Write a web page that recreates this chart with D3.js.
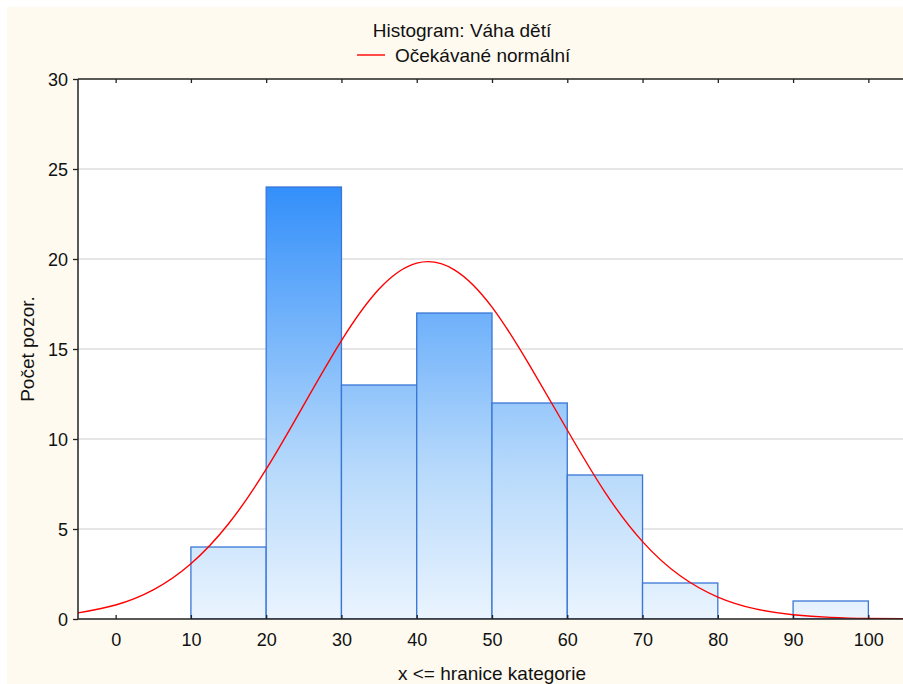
<!DOCTYPE html>
<html>
<head>
<meta charset="utf-8">
<script src="https://cdn.jsdelivr.net/npm/d3@7"></script>
<style>
  body { margin: 0; background: #fff; }
  svg { display: block; font-family: "Liberation Sans", Arial, sans-serif; }
</style>
</head>
<body>
<svg id="chart"></svg>
<script>
// histogram bins (lower edge, upper edge, count)
const binStart = [10, 20, 30, 40, 50, 60, 70, 80, 90];
const binEnd   = [20, 30, 40, 50, 60, 70, 80, 90, 100];
const counts   = [4, 24, 13, 17, 12, 8, 2, 0, 1];

// expected normal curve
const curveX = [-5, 0, 5, 10, 15, 20, 25, 30, 35, 40, 45, 50, 55, 60, 65, 70, 75, 80, 85, 90, 95, 100, 105];
const curveY = [0.34, 0.78, 1.62, 3.07, 5.29, 8.32, 11.9, 15.47, 18.33, 19.77, 19.4, 17.33, 14.09, 10.5, 7.05, 4.3, 2.4, 1.22, 0.56, 0.24, 0.09, 0.03, 0.01];

const xTicks = [0, 10, 20, 30, 40, 50, 60, 70, 80, 90, 100];
const yTicks = [0, 5, 10, 15, 20, 25, 30];

const title = "Histogram: Váha dětí";
const legendLabel = "Očekávané normální";
const xLabel = "x <= hranice kategorie";
const yLabel = "Počet pozor.";

const W = 903, H = 684;
const margin = { top: 79, right: -3, bottom: 65, left: 78 };

const svg = d3.select("#chart").attr("width", W).attr("height", H);

// cream background
svg.append("rect").attr("x", 7).attr("y", 7).attr("width", W - 7).attr("height", H - 7)
  .attr("fill", "#fefaf0");

const x = d3.scaleLinear().domain([-5, 105]).range([margin.left, W - margin.right]);
const y = d3.scaleLinear().domain([0, 30]).range([H - margin.bottom, margin.top]);

const defs = svg.append("defs");
defs.append("clipPath").attr("id", "plotClip").append("rect")
  .attr("x", x(-5)).attr("y", y(30)).attr("width", x(105) - x(-5)).attr("height", y(0) - y(30));

const grad = defs.append("linearGradient").attr("id", "barGrad")
  .attr("gradientUnits", "userSpaceOnUse")
  .attr("x1", 0).attr("x2", 0).attr("y1", y(0)).attr("y2", y(24));
grad.append("stop").attr("offset", "0%").attr("stop-color", "#eaf4fe");
grad.append("stop").attr("offset", "35%").attr("stop-color", "#b6d9fb");
grad.append("stop").attr("offset", "100%").attr("stop-color", "#338ffa");

// plot area
svg.append("rect").attr("x", x(-5)).attr("y", y(30))
  .attr("width", x(105) - x(-5)).attr("height", y(0) - y(30)).attr("fill", "#fff");

// grid
svg.append("g").selectAll("line").data(yTicks.filter(d => d > 0 && d < 30)).join("line")
  .attr("x1", x(-5)).attr("x2", x(105))
  .attr("y1", d => y(d)).attr("y2", d => y(d))
  .attr("stroke", "#dedede").attr("stroke-width", 1.5);

const plot = svg.append("g").attr("clip-path", "url(#plotClip)");

// bars
const bins = counts.map((c, i) => ({ x0: binStart[i], x1: binEnd[i], n: c })).filter(d => d.n > 0);
plot.selectAll("rect.bar").data(bins).join("rect")
  .attr("class", "bar")
  .attr("x", d => x(d.x0)).attr("width", d => x(d.x1) - x(d.x0))
  .attr("y", d => y(d.n)).attr("height", d => y(0) - y(d.n))
  .attr("fill", "url(#barGrad)")
  .attr("stroke", "#3a76d6").attr("stroke-width", 1.3);

// expected normal curve
const line = d3.line().x(d => x(d[0])).y(d => y(d[1])).curve(d3.curveNatural);
plot.append("path").datum(curveX.map((v, i) => [v, curveY[i]]))
  .attr("d", line).attr("fill", "none").attr("stroke", "#ff0000").attr("stroke-width", 1.4);

// frame: top, left, bottom
const frame = svg.append("g").attr("stroke", "#222").attr("stroke-width", 1.5);
frame.append("line").attr("x1", x(-5)).attr("x2", x(105)).attr("y1", y(30)).attr("y2", y(30));
frame.append("line").attr("x1", x(-5)).attr("x2", x(105)).attr("y1", y(0)).attr("y2", y(0));
frame.append("line").attr("x1", x(-5)).attr("x2", x(-5)).attr("y1", y(30)).attr("y2", y(0));

// axes
const xAxis = svg.append("g").attr("transform", `translate(0,${y(0)})`)
  .call(d3.axisBottom(x).tickValues(xTicks).tickSizeInner(-4).tickSizeOuter(0).tickPadding(14));
const xTop = svg.append("g").attr("transform", `translate(0,${y(30)})`)
  .call(d3.axisTop(x).tickValues(xTicks).tickSizeInner(-4).tickSizeOuter(0).tickFormat(""));
const yAxis = svg.append("g").attr("transform", `translate(${x(-5)},0)`)
  .call(d3.axisLeft(y).tickValues(yTicks).tickSizeInner(5).tickSizeOuter(0).tickPadding(5));

[xAxis, xTop, yAxis].forEach(g => {
  g.select(".domain").remove();
  g.selectAll(".tick line").attr("stroke", "#222").attr("stroke-width", 1.3);
  g.selectAll(".tick text").attr("font-size", 18).attr("fill", "#111")
    .attr("font-family", "'Liberation Sans', Arial, sans-serif");
});
yAxis.selectAll(".tick text").attr("dy", "0.36em");

// title & legend
svg.append("text").attr("x", 462).attr("y", 37).attr("text-anchor", "middle")
  .attr("font-size", 19).attr("fill", "#111").text(title);
svg.append("line").attr("x1", 357).attr("x2", 385).attr("y1", 55).attr("y2", 55)
  .attr("stroke", "#ff0000").attr("stroke-width", 1.4);
svg.append("text").attr("x", 395).attr("y", 62)
  .attr("font-size", 19).attr("fill", "#111").text(legendLabel);

// axis labels
svg.append("text").attr("x", (x(-5) + x(105)) / 2).attr("y", 680).attr("text-anchor", "middle")
  .attr("font-size", 19).attr("fill", "#111").text(xLabel);
svg.append("text").attr("transform", `translate(34,${(y(0) + y(30)) / 2}) rotate(-90)`)
  .attr("text-anchor", "middle").attr("font-size", 19).attr("fill", "#111").text(yLabel);
</script>
</body>
</html>
